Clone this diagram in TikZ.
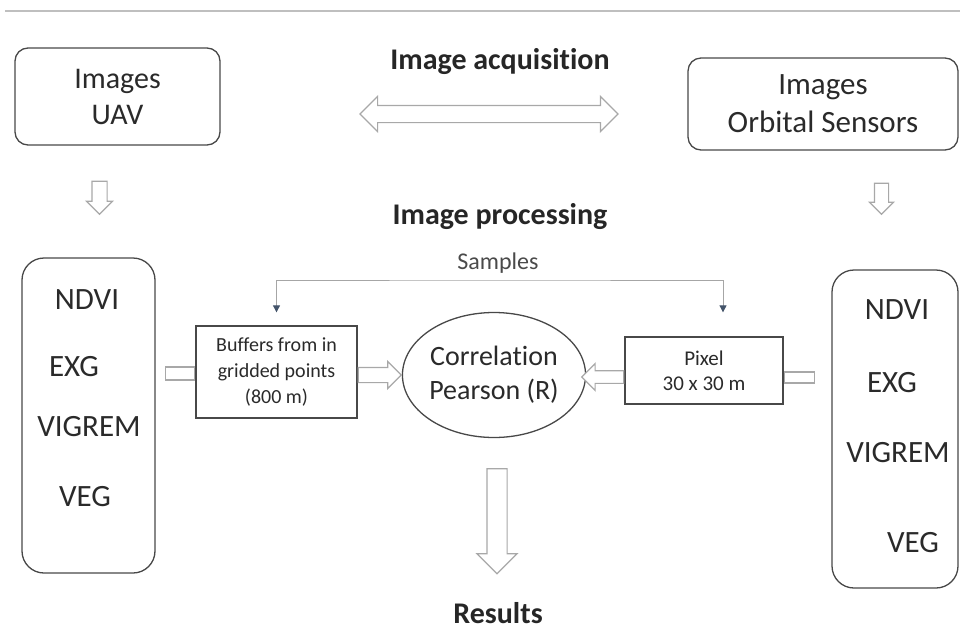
\documentclass[tikz,border=0pt]{standalone}
\usepackage{fontspec}
\setmainfont{Carlito}[Ligatures=NoCommon]
\usetikzlibrary{positioning,shapes.arrows,shapes.geometric,arrows.meta}
\definecolor{boxline}{HTML}{484848}
\definecolor{textgray}{HTML}{2A2A2A}
\definecolor{arrowgray}{HTML}{A8A8A8}
\definecolor{sampleblue}{HTML}{44546A}
\begin{document}
\begin{tikzpicture}[x=1pt, y=-1pt,
    every node/.style={text=textgray, font=\fontsize{30}{36}\selectfont},
    imagebox/.style={draw=boxline, line width=1.3pt, rounded corners=13pt, align=center, inner sep=0pt},
    indexbox/.style={draw=boxline, line width=1.3pt, rounded corners=22pt, inner sep=0pt},
    samplebox/.style={draw=boxline, line width=1.3pt, align=center, inner sep=0pt, font=\fontsize{20}{26}\selectfont},
    heading/.style={text=black!85, font=\bfseries\fontsize{30}{36}\selectfont},
    hollow/.style n args={3}{single arrow, draw=arrowgray, line width=1.2pt, fill=white,
        inner xsep=0pt, single arrow tip angle=90, minimum height=#1, inner ysep=#2, single arrow head extend=#3},
    stub/.style={draw=arrowgray, line width=1.2pt, fill=white, inner sep=0pt},
    sample link/.style={gray!70, line width=0.8pt}]
    \useasboundingbox (0,0) rectangle (960,635);
    \draw[gray!50, line width=2pt] (5,11) -- (960,11);

    \node[imagebox, minimum width=205, minimum height=97] (uav) at (117.5,96.5) {Images\\UAV};
    \node[imagebox, minimum width=270, minimum height=92, font=\fontsize{31}{38}\selectfont] (orb) at (823,104) {Images\\Orbital Sensors};
    \node[heading] (acq) at (500,62) {Image acquisition};
    \node[heading] (proc) at (500,217) {Image processing};
    \node[double arrow, draw=arrowgray, line width=1.2pt, fill=white, inner xsep=0pt, inner ysep=8pt,
        double arrow tip angle=90, double arrow head extend=9pt, minimum height=258] (acq-arrow) at (489,114) {};

    \node[hollow={33}{7pt}{5.5pt}, rotate=-90, anchor=tail] (uav-down) at ([xshift=-18pt, yshift=-35pt]uav.south) {};
    \node[hollow={31}{6.5pt}{5pt}, rotate=-90, anchor=tail] (orb-down) at ([xshift=58.5pt, yshift=-32pt]orb.south) {};

    \node[indexbox, minimum width=133, minimum height=315] (uav-idx) at (88.5,415.5) {};
    \node[indexbox, minimum width=126, minimum height=318] (orb-idx) at (895,429) {};
    \foreach \x/\y/\name in {87/300/NDVI, 74/367/EXG, 89/427/VIGREM, 85/497/VEG}
        \node[font=\fontsize{31}{36}\selectfont] (uav-\name) at (\x,\y) {\name};
    \foreach \x/\y/\name in {897/310/NDVI, 892/383/EXG, 898/453/VIGREM, 913/543/VEG}
        \node[font=\fontsize{31}{36}\selectfont] (orb-\name) at (\x,\y) {\name};

    \node[samplebox, minimum width=161, minimum height=92] (buf) at (276.5,372) {Buffers from in\\gridded points\\(800 m)};
    \node[samplebox, minimum width=158, minimum height=67, font=\fontsize{21}{25}\selectfont] (pix) at (704,370.5) {Pixel\\30 x 30 m};
    \node[ellipse, draw=boxline, line width=1.3pt, minimum width=142, minimum height=125, inner sep=0pt,
        align=center, font=\fontsize{28}{34}\selectfont] (corr) at (494,375) {Correlation\\Pearson (R)};

    \node[stub, minimum width=29, minimum height=13, anchor=east] (buf-in) at ([yshift=-1.5pt]buf.west) {};
    \node[stub, minimum width=30, minimum height=11, anchor=west] (pix-in) at ([yshift=-7pt]pix.east) {};
    \node[hollow={43}{7pt}{6pt}, anchor=tail] (buf-out) at ([yshift=-3pt]buf.east) {};
    \node[hollow={42}{5.75pt}{7pt}, shape border rotate=180, anchor=tail] (pix-out) at ([yshift=-6.5pt]pix.west) {};

    \node[text=textgray!85, font=\fontsize{24}{28}\selectfont] (samples) at (498,263) {Samples};
    \coordinate (drop-left) at ([yshift=13pt]buf.north);
    \coordinate (drop-right) at ([xshift=19pt, yshift=24pt]pix.north);
    \coordinate (sample-bar) at (500,280);
    \draw[sample link, {Triangle[width=7pt, length=7pt, color=sampleblue]}-{Triangle[width=7pt, length=7pt, color=sampleblue]}]
        (drop-left) |- (sample-bar) -| (drop-right);

    \node[hollow={105}{9.5pt}{10pt}, rotate=-90, anchor=tail] (corr-down) at ([xshift=3pt, yshift=-30pt]corr.south) {};
    \node[heading] (results) at (498,613) {Results};
\end{tikzpicture}
\end{document}
